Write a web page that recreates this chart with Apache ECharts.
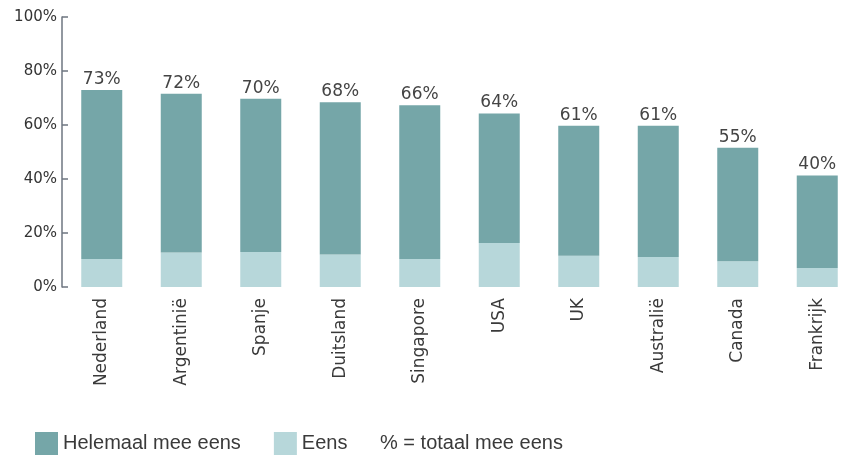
<!DOCTYPE html>
<html>
	<head>
		<meta charset="utf-8">
		<style>
			html, body { margin: 0; padding: 0; background: #fff; }
			#myChart { width: 841px; height: 455px; }
		</style>
	</head>
	<body>
		<div id="myChart"></div>
	</body>
	<script src="https://cdn.jsdelivr.net/npm/echarts@6/dist/echarts.min.js"></script>
	<script type="text/javascript">
		// landen
		var landen = ['Nederland', 'Argentinië', 'Spanje', 'Duitsland', 'Singapore', 'USA', 'UK', 'Australië', 'Canada', 'Frankrijk'];
		// Eens (lichte deel, onderaan)
		var eens = [10.4, 12.8, 13.0, 12.0, 10.4, 16.3, 11.6, 11.1, 9.5, 7.0];
		// Helemaal mee eens (donkere deel, bovenop)
		var helemaal = [62.6, 58.8, 56.7, 56.4, 56.9, 48.0, 48.1, 48.6, 42.1, 34.3];
		// % = totaal mee eens
		var totaal = [73, 72, 70, 68, 66, 64, 61, 61, 55, 40];
		var yTicks = [0, 20, 40, 60, 80, 100];

		var font = 'DejaVu Sans';
		var chart = echarts.init(document.getElementById('myChart'));

		var option = {
			animation: false,
			// grafiek loopt rechts iets buiten beeld, vandaar de vaste breedte
			grid: { left: 62, width: 795, top: 17, bottom: 168, outerBoundsMode: 'none' },
			legend: {
				data: ['Helemaal mee eens', 'Eens'],
				left: 35,
				top: 432,
				padding: 0,
				icon: 'rect',
				itemWidth: 23,
				itemHeight: 23,
				itemGap: 33,
				textStyle: { fontFamily: 'Liberation Sans', fontSize: 20, color: '#3a3a3a' }
			},
			graphic: [{
				type: 'text',
				left: 380,
				top: 433,
				style: { text: '% = totaal mee eens', fontFamily: 'Liberation Sans', fontSize: 20, fill: '#3a3a3a' }
			}],
			xAxis: {
				type: 'category',
				data: landen,
				axisLine: { show: false },
				axisTick: { show: false },
				axisLabel: { rotate: 90, margin: 11, fontFamily: font, fontSize: 17, color: '#3a3a3a' }
			},
			yAxis: {
				type: 'value',
				min: yTicks[0],
				max: yTicks[yTicks.length - 1],
				interval: 20,
				axisLine: { show: true, lineStyle: { color: '#6e7680', width: 1.5 } },
				axisTick: { show: true, inside: true, length: 6, lineStyle: { color: '#6e7680', width: 1.5 } },
				splitLine: { show: false },
				axisLabel: { formatter: '{value}%', margin: 5, fontFamily: font, fontSize: 15, color: '#333' }
			},
			series: [{
				name: 'Eens',
				type: 'bar',
				stack: 'totaal',
				barWidth: 41,
				itemStyle: { color: '#b7d7da' },
				data: eens
			}, {
				name: 'Helemaal mee eens',
				type: 'bar',
				stack: 'totaal',
				barWidth: 41,
				itemStyle: { color: '#75a6a8' },
				label: {
					show: true,
					position: 'top',
					distance: 2,
					fontFamily: font,
					fontSize: 17,
					color: '#444',
					formatter: function (p) { return totaal[p.dataIndex] + '%'; }
				},
				data: helemaal
			}]
		};

		chart.setOption(option);
	</script>
</html>
